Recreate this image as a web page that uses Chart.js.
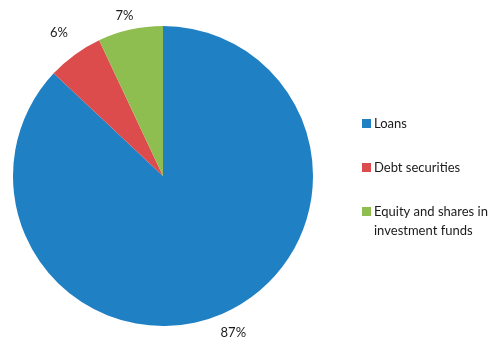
<!DOCTYPE html>
<html>
<head>
<meta charset="utf-8">
<script src="https://cdn.jsdelivr.net/npm/chart.js@4/dist/chart.umd.min.js"></script>
<style>
  html, body { margin: 0; padding: 0; background: #fff; }
  #wrap { width: 498px; height: 343px; position: relative; }
</style>
</head>
<body>
<div id="wrap"><canvas id="c"></canvas></div>
<script>
const categories = ['Loans', 'Debt securities', ['Equity and shares in', 'investment funds']];
const shares = [87, 6, 7];
const colors = ['#2080C4', '#DD4C4C', '#8FBE50'];

const FONT = '13px Lato, "Open Sans", sans-serif';

// percentage labels outside the slices + legend on the right
const extras = {
  id: 'extras',
  afterDraw(chart) {
    const ctx = chart.ctx;
    const meta = chart.getDatasetMeta(0);
    ctx.save();
    ctx.font = FONT;
    ctx.fillStyle = '#1a1a1a';
    ctx.textAlign = 'center';
    ctx.textBaseline = 'middle';
    meta.data.forEach((arc, i) => {
      const mid = (arc.startAngle + arc.endAngle) / 2;
      const r = arc.outerRadius + 27;
      let x = arc.x + Math.cos(mid) * r;
      let y = arc.y + Math.sin(mid) * r;
      // keep labels inside the canvas
      y = Math.max(16, Math.min(chart.height - 10, y));
      ctx.fillText(shares[i] + '%', x, y);
    });

    ctx.textAlign = 'left';
    let y = 123;
    categories.forEach((lab, i) => {
      const lines = Array.isArray(lab) ? lab : [lab];
      ctx.fillStyle = colors[i];
      ctx.fillRect(362, y - 4, 9, 9);
      ctx.fillStyle = '#1a1a1a';
      lines.forEach((t, j) => ctx.fillText(t, 374, y + 1 + j * 19));
      y += 44;
    });
    ctx.restore();
  }
};

new Chart(document.getElementById('c'), {
  type: 'pie',
  data: {
    labels: categories,
    datasets: [{
      data: shares,
      backgroundColor: colors,
      borderWidth: 0
    }]
  },
  options: {
    responsive: true,
    maintainAspectRatio: false,
    animation: false,
    layout: { padding: { left: 13, right: 185, top: 26, bottom: 17 } },
    plugins: {
      legend: { display: false },
      tooltip: { enabled: false }
    }
  },
  plugins: [extras]
});
</script>
</body>
</html>
